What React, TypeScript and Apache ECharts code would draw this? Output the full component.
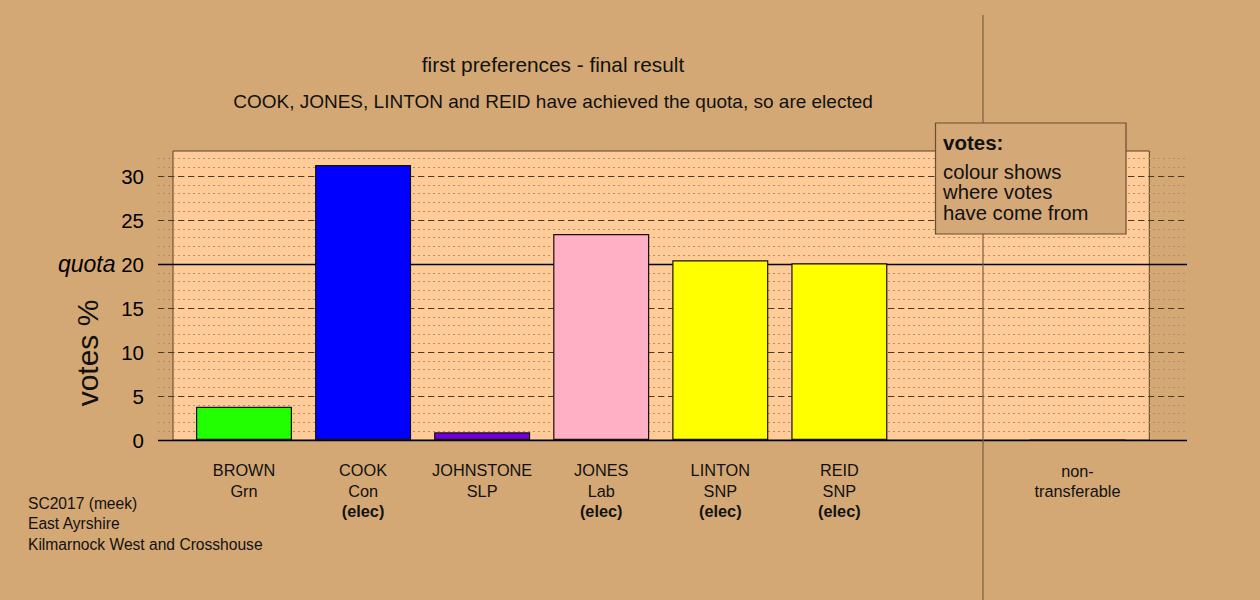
import React, { useEffect, useRef } from "react";
import * as echarts from "echarts";

const candidates = ["BROWN", "COOK", "JOHNSTONE", "JONES", "LINTON", "REID", "non-transferable"];
const parties = ["Grn", "Con", "SLP", "Lab", "SNP", "SNP", ""];
const elected = [false, true, false, true, true, true, false];
const votesPct = [3.78, 31.25, 0.87, 23.4, 20.42, 20.08, 0];
const barColors = ["#22ff00", "#0000ff", "#7000e0", "#ffb0c4", "#ffff00", "#ffff00", "#ffcc99"];
const slots = [0, 1, 2, 3, 4, 5, 7];
const yTicks = [0, 5, 10, 15, 20, 25, 30];
const quota = 20;

const titleText = "first preferences - final result";
const subtitleText = "COOK, JONES, LINTON and REID have achieved the quota, so are elected";
const footerLines = ["SC2017 (meek)", "East Ayrshire", "Kilmarnock West and Crosshouse"];
const legendTitle = "votes:";
const legendLines = ["colour shows", "where votes", "have come from"];

const FONT = "'Liberation Sans', Arial, sans-serif";
const BG = "#d4a874";
const PEACH = "#ffcc99";

export default function App() {
  const ref = useRef<HTMLDivElement>(null);
  useEffect(() => {
    if (!ref.current) return;
    const chart = echarts.init(ref.current, null, { renderer: "svg" });

    const data = candidates.map((c, i) => ({
      value: [slots[i], votesPct[i]],
      name: c,
      itemStyle: { color: barColors[i] },
    }));

    const option: any = {
      animation: false,
      backgroundColor: BG,
      textStyle: { fontFamily: FONT },
      grid: { left: 158, right: 73, top: 158.4, bottom: 160, containLabel: false },
      xAxis: [
        {
          type: "value",
          min: -0.7223,
          max: 7.9197,
          axisLine: { show: false },
          axisTick: { show: false },
          axisLabel: { show: false },
          splitLine: { show: false },
        },
      ],
      yAxis: [
        {
          type: "value",
          min: 0,
          max: 32,
          interval: 1,
          z: 0,
          axisLine: { show: false },
          axisTick: { show: false },
          axisLabel: {
            margin: 14,
            fontSize: 20.5,
            color: "#000",
            fontFamily: FONT,
            formatter: (v: number) =>
              v === quota ? "{q|quota} 20" : yTicks.indexOf(v) >= 0 ? String(v) : "",
            rich: {
              q: { fontStyle: "italic", fontSize: 23, color: "#000", fontFamily: FONT },
            },
          },
          splitLine: {
            show: true,
            lineStyle: { color: "#b09070", width: 1, type: [2, 3] },
          },
        },
        {
          type: "value",
          min: 0,
          max: 32,
          interval: 5,
          position: "left",
          z: 1,
          axisLine: { show: false },
          axisTick: { show: false },
          axisLabel: { show: false },
          splitLine: {
            show: true,
            showMinLine: false,
            showMaxLine: false,
            lineStyle: { color: "#4a3a2a", width: 1, type: [6, 4] },
          },
        },
        {
          type: "value",
          min: 0,
          max: 32,
          interval: 20,
          position: "left",
          z: 1,
          axisLine: { show: false },
          axisTick: { show: false },
          axisLabel: { show: false },
          splitLine: {
            show: true,
            showMaxLine: false,
            lineStyle: { color: "#000", width: 1.3, type: "solid" },
          },
        },
      ],
      series: [
        {
          type: "bar",
          xAxisIndex: 0,
          yAxisIndex: 0,
          barWidth: 96,
          z: 2,
          data,
          itemStyle: { borderColor: "#1a100a", borderWidth: 1.2 },
          label: {
            show: true,
            position: "bottom",
            distance: 20,
            color: "#111",
            fontFamily: FONT,
            fontSize: 16.3,
            lineHeight: 20.5,
            formatter: (p: any) => {
              const i = p.dataIndex;
              const lines: string[] = [];
              if (candidates[i] === "non-transferable") {
                lines.push("{n|non-}", "{n|transferable}");
              } else {
                lines.push("{n|" + candidates[i] + "}");
                if (parties[i]) lines.push("{n|" + parties[i] + "}");
                if (elected[i]) lines.push("{b|(elec)}");
              }
              return lines.join("\n");
            },
            rich: {
              n: { fontSize: 16.3, lineHeight: 20.5, color: "#111", fontFamily: FONT },
              b: { fontSize: 16.3, lineHeight: 20.5, color: "#111", fontWeight: "bold", fontFamily: FONT },
            },
          },
        },
      ],
      graphic: [
        {
          type: "rect",
          z: -1,
          silent: true,
          shape: { x: 173, y: 151, width: 976.3, height: 289 },
          style: { fill: PEACH, stroke: "#5a4028", lineWidth: 1 },
        },
        {
          type: "line",
          z: 5,
          silent: true,
          shape: { x1: 983, y1: 15, x2: 983, y2: 600 },
          style: { stroke: "#7d5f3f", lineWidth: 1.2 },
        },
        {
          type: "text",
          z: 5,
          x: 553,
          y: 64,
          style: { text: titleText, fontSize: 20.8, fontFamily: FONT, fill: "#111", textAlign: "center", textVerticalAlign: "middle" },
        },
        {
          type: "text",
          z: 5,
          x: 553,
          y: 101,
          style: { text: subtitleText, fontSize: 19, fontFamily: FONT, fill: "#111", textAlign: "center", textVerticalAlign: "middle" },
        },
        {
          type: "text",
          z: 5,
          x: 87,
          y: 353,
          rotation: Math.PI / 2,
          style: { text: "votes %", fontSize: 30, fontFamily: FONT, fill: "#111", textAlign: "center", textVerticalAlign: "middle" },
        },
        ...footerLines.map((t, i) => ({
          type: "text",
          z: 5,
          x: 28,
          y: 503 + i * 20.5,
          style: { text: t, fontSize: 15.6, fontFamily: FONT, fill: "#111", textAlign: "left", textVerticalAlign: "middle" },
        })),
        {
          type: "rect",
          z: 10,
          silent: true,
          shape: { x: 935.5, y: 123, width: 190.5, height: 111 },
          style: { fill: "#d5a877", stroke: "#6a4e30", lineWidth: 1.2 },
        },
        {
          type: "text",
          z: 11,
          x: 943,
          y: 142.5,
          style: { text: legendTitle, fontSize: 20.5, fontWeight: "bold", fontFamily: FONT, fill: "#111", textAlign: "left", textVerticalAlign: "middle" },
        },
        ...legendLines.map((t, i) => ({
          type: "text",
          z: 11,
          x: 943,
          y: 171.5 + i * 20.5,
          style: { text: t, fontSize: 20.3, fontFamily: FONT, fill: "#111", textAlign: "left", textVerticalAlign: "middle" },
        })),
      ],
    };

    chart.setOption(option);
    return () => chart.dispose();
  }, []);

  return (
    <div
      ref={ref}
      style={{ position: "fixed", left: 0, top: 0, width: 1260, height: 600 }}
    />
  );
}
